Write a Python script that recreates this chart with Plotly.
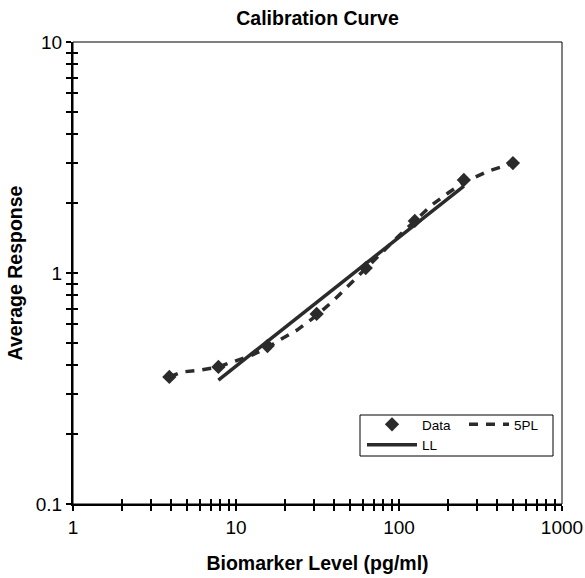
import plotly.graph_objects as go

# Data
data_x = [3.9, 7.8, 15.6, 31.25, 62.5, 125, 250, 500]
data_y = [0.355, 0.392, 0.483, 0.665, 1.05, 1.68, 2.53, 2.99]

fit5pl_x = [3.9, 4.7, 6.0, 7.8, 9.3, 12.2, 15.6, 18.1, 23.7, 31.25, 39.4, 49.3,
            62.5, 80, 100, 125, 159, 200, 250, 352, 500]
fit5pl_y = [0.355, 0.373, 0.38, 0.392, 0.41, 0.437, 0.475, 0.508, 0.566, 0.655,
            0.757, 0.887, 1.05, 1.25, 1.45, 1.68, 1.97, 2.22, 2.47, 2.76, 2.99]

ll_x = [7.8, 250]
ll_y = [0.344, 2.38]

x_tickvals = [1, 2, 3, 4, 5, 6, 7, 8, 9, 10, 20, 30, 40, 50, 60, 70, 80, 90,
              100, 200, 300, 400, 500, 600, 700, 800, 900, 1000]
x_ticktext = ["1"] + [""] * 8 + ["10"] + [""] * 8 + ["100"] + [""] * 8 + ["1000"]
y_tickvals = [0.1, 0.2, 0.3, 0.4, 0.5, 0.6, 0.7, 0.8, 0.9, 1, 2, 3, 4, 5, 6, 7, 8, 9, 10]
y_ticktext = ["0.1"] + [""] * 8 + ["1"] + [""] * 8 + ["10"]

DARK = "#2b2b2b"
FONT = "Liberation Sans, Arial, sans-serif"
L, R, T, B = 73, 562, 42, 504
W, H = 585, 578
PW, PH = R - L, B - T

def px_x(p):
    return (p - L) / PW

def px_y(p):
    return (B - p) / PH

fig = go.Figure()
fig.add_trace(go.Scatter(x=data_x, y=data_y, mode="markers", name="Data", legend="legend",
                         marker=dict(symbol="diamond", size=11, color=DARK)))
fig.add_trace(go.Scatter(x=fit5pl_x, y=fit5pl_y, mode="lines", name="5PL", legend="legend2",
                         line=dict(color=DARK, width=3.5, dash="9px,8px")))
fig.add_trace(go.Scatter(x=ll_x, y=ll_y, mode="lines", name="LL", legend="legend",
                         line=dict(color=DARK, width=3.5)))
# invisible trace to carry the inner-tick overlay axes
fig.add_trace(go.Scatter(x=data_x, y=data_y, mode="markers", xaxis="x2", yaxis="y2",
                         marker=dict(opacity=0), showlegend=False, hoverinfo="skip"))

axis_common = dict(type="log", showgrid=False, zeroline=False, automargin=False,
                   linecolor="black", linewidth=2, tickcolor="black", tickwidth=1.5,
                   tickfont=dict(family=FONT, size=19, color="black"))

legend_common = dict(orientation="v", xanchor="left", yanchor="top",
                     borderwidth=0, bgcolor="rgba(0,0,0,0)",
                     font=dict(family=FONT, size=13.5), tracegroupgap=0)

fig.update_layout(
    width=W, height=H,
    margin=dict(l=L, r=W - R, t=T, b=H - B),
    paper_bgcolor="white", plot_bgcolor="white",
    font=dict(family=FONT, color="black"),
    title=dict(text="<b>Calibration Curve</b>", x=(L + R) / 2 / W, xanchor="center",
               y=1 - 18 / H, yanchor="middle", font=dict(family=FONT, size=19.5)),
    xaxis=dict(**axis_common, range=[0, 3], tickvals=x_tickvals, ticktext=x_ticktext,
               ticks="outside", ticklen=5, showline=True,
               title=dict(text="<b>Biomarker Level (pg/ml)</b>", font=dict(family=FONT, size=19.5),
                          standoff=20)),
    yaxis=dict(**axis_common, range=[-1, 1], tickvals=y_tickvals, ticktext=y_ticktext,
               ticks="outside", ticklen=5, showline=True,
               title=dict(text="<b>Average Response</b>", font=dict(family=FONT, size=19.5),
                          standoff=8)),
    xaxis2=dict(type="log", range=[0, 3], overlaying="x", anchor="y", side="bottom",
                tickvals=x_tickvals, ticks="inside", ticklen=5, tickcolor="black",
                tickwidth=1.5, showticklabels=False, showgrid=False, zeroline=False,
                showline=False, automargin=False),
    yaxis2=dict(type="log", range=[-1, 1], overlaying="y", anchor="x", side="left",
                tickvals=y_tickvals, ticks="inside", ticklen=5, tickcolor="black",
                tickwidth=1.5, showticklabels=False, showgrid=False, zeroline=False,
                showline=False, automargin=False),
    legend=dict(**legend_common, x=px_x(362), y=px_y(409), itemwidth=50),
    legend2=dict(**legend_common, x=px_x(464), y=px_y(409), itemwidth=40),
    shapes=[
        dict(type="rect", xref="paper", yref="paper", x0=0, x1=1, y0=0, y1=1,
             line=dict(color="black", width=1), fillcolor="rgba(0,0,0,0)", layer="below"),
        dict(type="rect", xref="paper", yref="paper", x0=px_x(360), x1=px_x(553),
             y0=px_y(456), y1=px_y(415), line=dict(color="black", width=1),
             fillcolor="white", layer="above"),
    ],
    showlegend=True,
)

fig.write_html("out.html", post_script="document.body.style.margin='0';",
               config={"displayModeBar": False})
